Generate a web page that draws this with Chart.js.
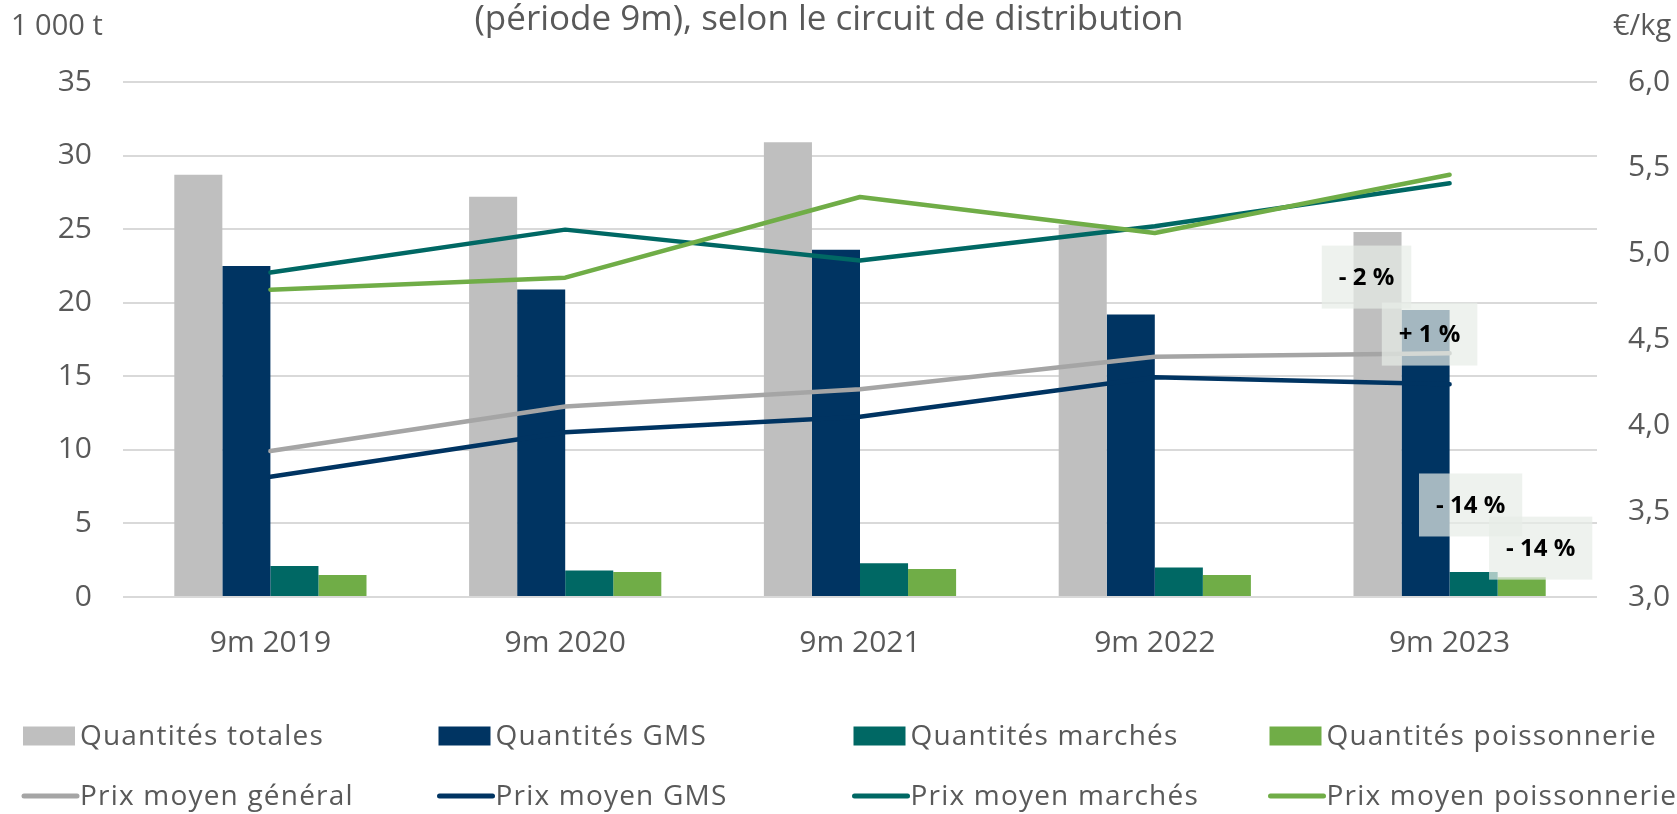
<!DOCTYPE html>
<html>
<head>
<meta charset="utf-8">
<script src="https://cdn.jsdelivr.net/npm/chart.js@4.4.1/dist/chart.umd.min.js"></script>
<style>
  html, body { margin: 0; padding: 0; background: #ffffff; }
  #wrap { width: 1677px; height: 814px; position: relative; }
</style>
</head>
<body>
<div id="wrap"><canvas id="c" width="1677" height="814"></canvas></div>
<script>
// ---- Data ----
const categories = ['9m 2019', '9m 2020', '9m 2021', '9m 2022', '9m 2023'];
const quantitesTotales = [28.7, 27.2, 30.9, 25.3, 24.8];
const quantitesGMS = [22.5, 20.9, 23.6, 19.2, 19.5];
const quantitesMarches = [2.1, 1.8, 2.3, 2.0, 1.7];
const quantitesPoissonnerie = [1.5, 1.7, 1.9, 1.5, 1.35];
const prixGeneral = [3.85, 4.11, 4.21, 4.40, 4.42];
const prixGMS = [3.70, 3.96, 4.05, 4.28, 4.24];
const prixMarches = [4.89, 5.14, 4.96, 5.16, 5.41];
const prixPoissonnerie = [4.79, 4.86, 5.33, 5.12, 5.46];
const variationLabels = ['- 2 %', '+ 1 %', '- 14 %', '- 14 %'];
const titleText = '(période 9m), selon le circuit de distribution';
const leftUnit = '1 000 t';
const rightUnit = '€/kg';

// ---- Styles ----
const FONT = '"Open Sans", "DejaVu Sans", sans-serif';
const TEXT = '#595959';
const C_GRAY = '#bfbfbf', C_NAVY = '#003462', C_TEAL = '#006864', C_GREEN = '#70ad47', C_GRAYLINE = '#a5a5a5';
// annotation offsets relative to the 2023 bar tops (dataset index -> dx, dy)
const annotStyle = [
  { ds: 0, dx: -11, dy: 45 },
  { ds: 1, dx: 4, dy: 24 },
  { ds: 2, dx: -3, dy: -67 },
  { ds: 3, dx: 19, dy: -29 }
];
const legendCols = [23, 438.5, 853.5, 1269.5];
const legendRows = [736, 796];

function bar(label, data, color) {
  return { type: 'bar', label, data, backgroundColor: color, borderWidth: 0,
           yAxisID: 'y', order: 10, categoryPercentage: 0.652, barPercentage: 1.0 };
}
function line(label, data, color, order) {
  return { type: 'line', label, data, borderColor: color, backgroundColor: color,
           borderWidth: 4.5, pointRadius: 0, pointHoverRadius: 0, tension: 0,
           borderCapStyle: 'round', borderJoinStyle: 'round', yAxisID: 'y1', order };
}

const overlay = {
  id: 'overlay',
  afterDatasetsDraw(chart) {
    const ctx = chart.ctx;
    ctx.save();
    ctx.font = 'bold 24px ' + FONT;
    ctx.textAlign = 'center';
    ctx.textBaseline = 'middle';
    annotStyle.forEach((a, i) => {
      const meta = chart.getDatasetMeta(a.ds);
      const el = meta.data[meta.data.length - 1];
      const cx = el.x + a.dx, cy = el.y + a.dy;
      const w = ctx.measureText(variationLabels[i]).width + 34, h = 63;
      ctx.fillStyle = 'rgba(231,237,231,0.71)';
      ctx.fillRect(cx - w / 2, cy - h / 2, w, h);
      ctx.fillStyle = '#000000';
      ctx.fillText(variationLabels[i], cx, cy + 1);
    });
    ctx.restore();
  },
  afterDraw(chart) {
    const ctx = chart.ctx;
    ctx.save();
    ctx.fillStyle = TEXT;
    // title (visible line)
    ctx.font = '35px ' + FONT;
    ctx.textAlign = 'center';
    ctx.textBaseline = 'alphabetic';
    ctx.fillText(titleText, 829, 30);
    // unit labels
    ctx.font = '29px ' + FONT;
    ctx.textAlign = 'left';
    ctx.fillText(leftUnit, 11, 35);
    ctx.fillText(rightUnit, 1613, 35);
    // legend
    ctx.font = '28px ' + FONT;
    try { ctx.letterSpacing = '1.2px'; } catch (e) {}
    chart.data.datasets.forEach((ds, i) => {
      const x = legendCols[i % 4];
      const y = legendRows[Math.floor(i / 4)];
      if (ds.type === 'bar') {
        ctx.fillStyle = ds.backgroundColor;
        ctx.fillRect(x, y - 9.5, 52, 19);
      } else {
        ctx.strokeStyle = ds.borderColor;
        ctx.lineWidth = 5;
        ctx.lineCap = 'round';
        ctx.beginPath();
        ctx.moveTo(x + 1, y);
        ctx.lineTo(x + 54, y);
        ctx.stroke();
      }
      ctx.fillStyle = TEXT;
      ctx.textBaseline = 'middle';
      ctx.fillText(ds.label, x + 57, y + 1);
    });
    ctx.restore();
  }
};

new Chart(document.getElementById('c'), {
  data: {
    labels: categories,
    datasets: [
      bar('Quantités totales', quantitesTotales, C_GRAY),
      bar('Quantités GMS', quantitesGMS, C_NAVY),
      bar('Quantités marchés', quantitesMarches, C_TEAL),
      bar('Quantités poissonnerie', quantitesPoissonnerie, C_GREEN),
      line('Prix moyen général', prixGeneral, C_GRAYLINE, 4),
      line('Prix moyen GMS', prixGMS, C_NAVY, 3),
      line('Prix moyen marchés', prixMarches, C_TEAL, 2),
      line('Prix moyen poissonnerie', prixPoissonnerie, C_GREEN, 1)
    ]
  },
  options: {
    responsive: false,
    animation: false,
    events: [],
    layout: { padding: { top: 82, left: 0, right: 0, bottom: 0 } },
    plugins: { legend: { display: false }, title: { display: false }, tooltip: { enabled: false } },
    scales: {
      x: {
        offset: true,
        grid: { display: false, drawTicks: false },
        border: { display: false },
        ticks: { color: TEXT, font: { family: FONT, size: 30 }, padding: 28 },
        afterFit(s) { s.height = 217; }
      },
      y: {
        position: 'left', min: 0, max: 35,
        ticks: { stepSize: 5, color: TEXT, font: { family: FONT, size: 30 }, padding: 31 },
        grid: { color: '#d9d9d9', lineWidth: 2, drawTicks: false },
        border: { display: false },
        afterFit(s) { s.width = 123; }
      },
      y1: {
        position: 'right', min: 3, max: 6,
        ticks: { stepSize: 0.5, color: TEXT, font: { family: FONT, size: 30 }, padding: 31,
                 callback: v => v.toFixed(1).replace('.', ',') },
        grid: { display: false, drawTicks: false },
        border: { display: false },
        afterFit(s) { s.width = 80; }
      }
    }
  },
  plugins: [overlay]
});
</script>
</body>
</html>
